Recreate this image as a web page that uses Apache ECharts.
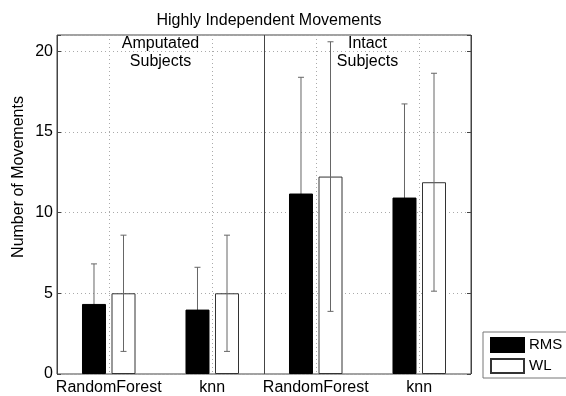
<!DOCTYPE html>
<html><head><meta charset="utf-8">
<script src="https://cdn.jsdelivr.net/npm/echarts@6/dist/echarts.min.js"></script>
<style>html,body{margin:0;padding:0;background:#fff}#c{width:566px;height:396px}</style>
</head><body><div id="c"></div>
<script>
var categories = ['RandomForest', 'knn', 'RandomForest', 'knn'];
var rmsMean = [4.34, 3.99, 11.18, 10.93];
var rmsStd  = [2.48, 2.62, 7.20, 5.80];
var wlMean  = [5.00, 5.00, 12.23, 11.88];
var wlStd   = [3.60, 3.60, 8.35, 6.75];
var yTicks = [0, 5, 10, 15, 20];
var groupLabels = ['Amputated\nSubjects', 'Intact\nSubjects'];

var FONT = 'Liberation Sans, Arial, Helvetica, sans-serif';
var GRID = {left: 57, right: 95, top: 35, bottom: 21};
var BAR_W = 24, BAR_GAP = 0.23;
var OFF = (BAR_W + BAR_W * BAR_GAP) / 2;

function errData(mean, sd) {
  return mean.map(function (m, i) { return [i, m - sd[i], m + sd[i]]; });
}
function errSeries(mean, sd, sign, z) {
  return {
    type: 'custom', z: z, silent: true,
    data: errData(mean, sd),
    encode: {x: 0, y: [1, 2]},
    renderItem: function (params, api) {
      var i = api.value(0);
      var lo = api.coord([i, api.value(1)]);
      var hi = api.coord([i, api.value(2)]);
      var x = lo[0] + sign * OFF;
      var st = {stroke: '#666', lineWidth: 1};
      return {type: 'group', children: [
        {type: 'line', shape: {x1: x, y1: lo[1], x2: x, y2: hi[1]}, style: st},
        {type: 'line', shape: {x1: x - 3, y1: lo[1], x2: x + 3, y2: lo[1]}, style: st},
        {type: 'line', shape: {x1: x - 3, y1: hi[1], x2: x + 3, y2: hi[1]}, style: st}
      ]};
    }
  };
}

var chart = echarts.init(document.getElementById('c'), null, {renderer: 'canvas'});
var plotW = 566 - GRID.left - GRID.right;
chart.setOption({
  backgroundColor: '#fff',
  animation: false,
  textStyle: {fontFamily: FONT},
  title: {text: 'Highly Independent Movements', left: GRID.left + plotW / 2, textAlign: 'center', top: 8,
    textStyle: {fontFamily: FONT, fontSize: 16, fontWeight: 'normal', color: '#000'}},
  grid: {left: GRID.left, right: GRID.right, top: GRID.top, bottom: GRID.bottom, show: true,
    borderColor: '#444', borderWidth: 1, backgroundColor: '#fff'},
  legend: {data: ['RMS', 'WL'], orient: 'vertical', left: 483, top: 332, padding: [5, 12, 4, 7],
    itemWidth: 33, itemHeight: 14, itemGap: 5, icon: 'rect', borderColor: '#777', borderWidth: 1,
    textStyle: {fontFamily: FONT, fontSize: 15, color: '#000'}},
  xAxis: [{
    type: 'category', data: categories, boundaryGap: true,
    axisLine: {show: false}, axisTick: {show: false},
    axisLabel: {color: '#000', fontSize: 16, fontFamily: FONT, margin: 6, interval: 0, hideOverlap: false},
    splitLine: {show: true, alignWithLabel: true, interval: 0, lineStyle: {color: '#aaa', type: [1, 3], width: 1}}
  }, {
    type: 'value', min: 0, max: 2, interval: 1, position: 'top',
    axisLine: {show: false}, axisTick: {show: false}, axisLabel: {show: false},
    splitLine: {show: true, lineStyle: {color: '#444', width: 1}}
  }],
  yAxis: [{
    type: 'value', min: 0, max: 21, interval: 5,
    axisLine: {show: false},
    axisTick: {show: true, inside: true, length: 4, lineStyle: {color: '#444'}},
    axisLabel: {color: '#000', fontSize: 16, fontFamily: FONT, margin: 4,
      formatter: function (v) { return yTicks.indexOf(v) >= 0 ? String(v) : ''; }},
    splitLine: {show: true, lineStyle: {color: '#aaa', type: [1, 3], width: 1}}
  }, {
    type: 'value', min: 0, max: 21, interval: 5, position: 'right',
    axisLine: {show: false}, axisLabel: {show: false},
    axisTick: {show: true, inside: true, length: 4, lineStyle: {color: '#444'}},
    splitLine: {show: false}
  }],
  graphic: [
    {type: 'text', x: GRID.left + plotW * 0.25, y: 35,
      style: {text: groupLabels[0], font: '16px ' + FONT, fill: '#000', textAlign: 'center', lineHeight: 18}},
    {type: 'text', x: GRID.left + plotW * 0.75, y: 35,
      style: {text: groupLabels[1], font: '16px ' + FONT, fill: '#000', textAlign: 'center', lineHeight: 18}},
    {type: 'text', x: 19, y: 177, rotation: Math.PI / 2,
      style: {text: 'Number of Movements', font: '16px ' + FONT, fill: '#000', textAlign: 'center', textVerticalAlign: 'middle'}}
  ],
  series: [
    errSeries(rmsMean, rmsStd, -1, 1),
    {name: 'RMS', type: 'bar', data: rmsMean, barWidth: BAR_W, barGap: (BAR_GAP * 100) + '%', z: 2,
      itemStyle: {color: '#000', borderColor: '#000', borderWidth: 1}},
    {name: 'WL', type: 'bar', data: wlMean, barWidth: BAR_W, z: 2,
      itemStyle: {color: '#fff', borderColor: '#333', borderWidth: 1}},
    errSeries(wlMean, wlStd, 1, 3)
  ]
});
</script></body></html>
